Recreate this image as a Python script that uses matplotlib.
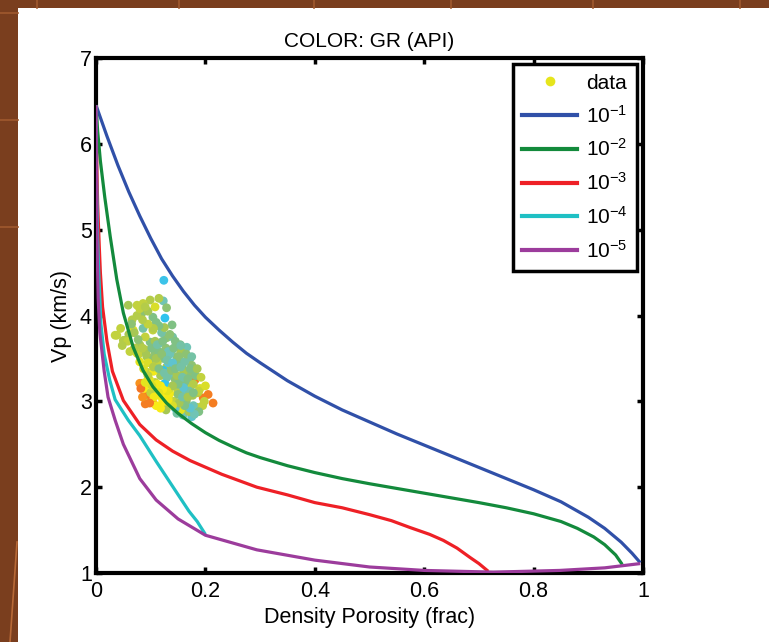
import numpy as np
import matplotlib
matplotlib.use("Agg")
from matplotlib import pyplot as plt
from matplotlib.colors import LinearSegmentedColormap, Normalize
from matplotlib.lines import Line2D
from matplotlib.patches import Rectangle

matplotlib.rcParams.update({'font.family': 'Liberation Sans', 'font.size': 15,
                            'mathtext.fontset': 'custom', 'mathtext.rm': 'Liberation Sans',
                            'mathtext.it': 'Liberation Sans', 'mathtext.bf': 'Liberation Sans'})

## model curves (porosity, Vp)
blue_phi = [0, 0.02, 0.04, 0.06, 0.08, 0.10, 0.12, 0.14, 0.16, 0.18, 0.20, 0.225, 0.25, 0.275,
            0.30, 0.35, 0.40, 0.45, 0.50, 0.55, 0.60, 0.65, 0.70, 0.75, 0.80, 0.85, 0.90, 0.93,
            0.96, 0.98, 0.995]
blue_vp = [6.45, 6.09, 5.75, 5.44, 5.16, 4.90, 4.66, 4.46, 4.28, 4.12, 3.98, 3.83, 3.69, 3.56,
           3.45, 3.24, 3.06, 2.90, 2.76, 2.62, 2.49, 2.36, 2.23, 2.10, 1.97, 1.83, 1.65, 1.52,
           1.36, 1.23, 1.12]

green_phi = [0, 0.003, 0.008, 0.016, 0.026, 0.038, 0.050, 0.068, 0.086, 0.104, 0.129, 0.15,
             0.175, 0.20, 0.225, 0.25, 0.275, 0.30, 0.35, 0.40, 0.45, 0.50, 0.55, 0.60, 0.65,
             0.70, 0.75, 0.80, 0.85, 0.88, 0.91, 0.93, 0.95, 0.962]
green_vp = [6.45, 6.15, 5.80, 5.38, 4.92, 4.42, 4.03, 3.63, 3.36, 3.17, 2.98, 2.86,
            2.74, 2.635, 2.545, 2.47, 2.40, 2.345, 2.25, 2.17, 2.10, 2.04, 1.985, 1.93, 1.875,
            1.82, 1.76, 1.69, 1.60, 1.52, 1.42, 1.33, 1.21, 1.10]

red_phi = [0, 0.001, 0.003, 0.006, 0.008, 0.012, 0.020, 0.030, 0.050, 0.080, 0.110, 0.140,
           0.172, 0.230, 0.294, 0.350, 0.400, 0.450, 0.500, 0.540, 0.574, 0.610, 0.635, 0.660,
           0.684, 0.700, 0.717]
red_vp = [6.45, 5.90, 5.30, 4.80, 4.50, 4.10, 3.70, 3.35, 3.01, 2.73, 2.55, 2.42,
          2.31, 2.15, 2.00, 1.91, 1.82, 1.76, 1.68, 1.61, 1.53, 1.45, 1.38, 1.29,
          1.18, 1.11, 1.02]

cyan_phi = [0, 0.001, 0.003, 0.005, 0.009, 0.015, 0.025, 0.035, 0.059, 0.080, 0.110, 0.141,
            0.170, 0.185, 0.200]
cyan_vp = [6.45, 5.60, 4.90, 4.50, 3.90, 3.55, 3.25, 3.02, 2.78, 2.60, 2.30, 2.00,
           1.72, 1.60, 1.45]

purple_phi = [0, 0.001, 0.002, 0.004, 0.007, 0.015, 0.022, 0.035, 0.050, 0.080, 0.110, 0.150,
              0.200, 0.294, 0.400, 0.500, 0.600, 0.726, 0.848, 0.930, 0.995]
purple_vp = [6.45, 5.50, 4.80, 4.20, 3.80, 3.35, 3.05, 2.78, 2.50, 2.10, 1.85, 1.63,
             1.44, 1.27, 1.15, 1.07, 1.03, 1.01, 1.03, 1.06, 1.11]

curves = [(blue_phi, blue_vp, '#3050a8', r'10$^{-1}$'),
          (green_phi, green_vp, '#138a3c', r'10$^{-2}$'),
          (red_phi, red_vp, '#ee2026', r'10$^{-3}$'),
          (cyan_phi, cyan_vp, '#1fc0c4', r'10$^{-4}$'),
          (purple_phi, purple_vp, '#9c3c9c', r'10$^{-5}$')]

## well log points: density porosity, Vp, GR
por = [0.124, 0.123, 0.126, 0.129, 0.139, 0.099, 0.086, 0.075, 0.059, 0.084, 0.104, 0.066, 0.038,
       0.053, 0.068, 0.086, 0.104, 0.129, 0.117, 0.099, 0.080, 0.154, 0.166, 0.139, 0.108, 0.075,
       0.093, 0.123, 0.148, 0.172, 0.080, 0.104, 0.129, 0.157, 0.123, 0.093, 0.172, 0.139, 0.181,
       0.084, 0.108, 0.126, 0.154, 0.172, 0.190, 0.093, 0.113, 0.135, 0.159, 0.177, 0.196, 0.214,
       0.104, 0.093, 0.129, 0.154, 0.168, 0.185, 0.148, 0.159, 0.175,
       0.090, 0.100, 0.112, 0.118, 0.130, 0.145, 0.150, 0.162, 0.135, 0.120, 0.110, 0.142, 0.165,
       0.178, 0.186, 0.195, 0.155, 0.170, 0.098, 0.088, 0.100, 0.078, 0.070, 0.060, 0.045, 0.065,
       0.075, 0.095, 0.110, 0.120, 0.135, 0.150, 0.160, 0.175, 0.182, 0.128, 0.108, 0.090, 0.140,
       0.155, 0.115, 0.125, 0.132, 0.160, 0.145, 0.118, 0.128, 0.105, 0.050, 0.035, 0.090, 0.080,
       0.095, 0.105, 0.115, 0.125, 0.138, 0.148, 0.158, 0.168, 0.178, 0.188, 0.170, 0.160, 0.150,
       0.140, 0.130, 0.122, 0.112, 0.102, 0.095, 0.087, 0.092, 0.102, 0.112, 0.122, 0.132, 0.142,
       0.152, 0.162, 0.172, 0.185, 0.192, 0.200, 0.205, 0.198, 0.188, 0.180, 0.172, 0.162, 0.152,
       0.140, 0.132, 0.122, 0.115, 0.106, 0.098, 0.085, 0.082, 0.090, 0.110, 0.120, 0.130, 0.140,
       0.145, 0.155, 0.165, 0.175, 0.145, 0.135, 0.125, 0.115, 0.105, 0.095, 0.085, 0.080, 0.090,
       0.108, 0.115, 0.070, 0.058, 0.048, 0.062, 0.085, 0.077, 0.155, 0.150, 0.158, 0.168, 0.178,
       0.128, 0.118]
vp = [4.41, 4.17, 3.97, 4.09, 3.89, 4.18, 4.14, 4.12, 4.12, 4.03, 3.98, 3.95, 3.77,
      3.71, 3.83, 3.85, 3.83, 3.74, 3.68, 3.69, 3.66, 3.66, 3.63, 3.60, 3.57, 3.56,
      3.52, 3.50, 3.52, 3.50, 3.46, 3.42, 3.40, 3.40, 3.36, 3.34, 3.33, 3.31, 3.25,
      3.21, 3.22, 3.21, 3.19, 3.17, 3.15, 3.07, 3.11, 3.09, 3.05, 3.07, 3.04, 2.98,
      2.98, 2.98, 2.98, 2.96, 2.92, 2.93, 2.86, 2.84, 2.82,
      3.60, 3.50, 3.45, 3.30, 3.28, 3.25, 3.12, 3.22, 3.15, 3.05, 2.95, 3.00, 3.00,
      2.95, 3.10, 2.95, 2.90, 2.88, 3.25, 3.15, 3.10, 3.55, 3.62, 3.78, 3.85, 3.90,
      4.00, 4.05, 3.92, 3.80, 3.55, 3.45, 3.35, 3.42, 3.30, 3.62, 3.70, 3.75, 3.75,
      3.58, 3.58, 3.20, 3.45, 3.10, 2.92, 3.18, 3.08, 3.35, 3.71, 3.77, 2.97, 3.21,
      3.45, 3.40, 3.38, 3.33, 3.36, 3.30, 3.28, 3.26, 3.20, 3.12, 3.12, 3.16, 3.20,
      3.18, 3.12, 3.14, 3.20, 3.18, 3.30, 3.38, 3.55, 3.62, 3.66, 3.70, 3.58, 3.62,
      3.52, 3.46, 3.38, 3.38, 3.28, 3.18, 3.08, 3.00, 2.88, 2.85, 2.92, 2.95, 2.98,
      2.95, 3.02, 3.00, 3.10, 3.05, 2.98, 3.05, 3.15, 3.22, 3.50, 3.55, 3.48, 3.45,
      3.38, 3.40, 3.55, 3.52, 3.70, 3.78, 3.86, 3.88, 3.85, 3.90, 3.95, 4.08, 4.10,
      4.10, 4.20, 3.80, 3.70, 3.65, 3.58, 3.62, 3.72, 3.65, 3.08, 3.05, 3.05, 3.10,
      2.90, 2.92]
gr = [75, 90, 70, 105, 100, 115, 118, 120, 110, 105, 100, 115, 120,
      110, 125, 95, 120, 105, 90, 100, 110, 100, 90, 95, 105, 125,
      110, 100, 105, 95, 130, 115, 110, 100, 70, 120, 105, 90, 165,
      160, 120, 75, 100, 120, 125, 165, 100, 135, 90, 110, 165, 165,
      170, 120, 130, 110, 85, 115, 95, 90, 85,
      115, 105, 120, 110, 95, 105, 115, 100, 125, 135, 140, 120, 105,
      90, 115, 120, 130, 110, 130, 140, 120, 120, 115, 110, 120, 105,
      115, 110, 100, 95, 90, 100, 110, 105, 100, 105, 110, 120, 95,
      110, 100, 70, 80, 90, 85, 140, 138, 135, 115, 120, 165, 160,
      125, 115, 100, 95, 105, 110, 95, 100, 115, 120, 95, 85, 100,
      110, 130, 140, 135, 125, 120, 125, 110, 100, 95, 100, 90, 100,
      105, 95, 100, 110, 120, 125, 165, 120, 100, 90, 85, 100, 110,
      125, 135, 140, 130, 135, 165, 160, 170, 130, 110, 105, 95, 85,
      100, 95, 105, 95, 100, 105, 110, 100, 115, 120, 115, 120, 115,
      125, 115, 110, 120, 115, 120, 115, 105, 95, 105, 95, 110, 100,
      110, 140]

gr_ticks = list(range(0, 221, 20))

# MATLAB-like jet used in the figure
anchors = [(0, '#2a2f85'), (20, '#2f4a9e'), (40, '#3358a8'), (60, '#3a7fc0'), (70, '#2fc4ef'),
           (80, '#55c2dd'), (90, '#6fc4b9'), (100, '#7cc08a'), (110, '#9fc45a'), (120, '#c7d43a'),
           (130, '#e6e51c'), (140, '#f9ec17'), (150, '#fbc012'), (160, '#f7931e'), (180, '#f05a28'),
           (195, '#ed1c24'), (210, '#c8202a'), (220, '#8b1a1a')]
cmap = LinearSegmentedColormap.from_list('gr', [(v / 220, c) for v, c in anchors], N=64)
norm = Normalize(vmin=0, vmax=220)

fig = plt.figure(figsize=(7.69, 6.42), dpi=100)
fig.patch.set_facecolor('#7a3e1e')
fig.patches.append(Rectangle((18 / 769, 0), 1, 1 - 8 / 642, transform=fig.transFigure,
                             facecolor='white', edgecolor='none', zorder=0))
# slide background decoration
for yy in [13, 120, 227]:
    fig.add_artist(Line2D([0, 18 / 769], [1 - yy / 642] * 2, color='#a0592e', lw=1.2))
for xx in [37, 179, 314, 451, 593, 740]:
    fig.add_artist(Line2D([xx / 769] * 2, [1 - 8 / 642, 1], color='#a0592e', lw=1.2))
fig.add_artist(Line2D([10 / 769, 17 / 769], [0, 100 / 642], color='#b86a38', lw=1.2))

ax = fig.add_axes([96 / 769, 69 / 642, 547 / 769, 515 / 642])
ax.set_zorder(2)

ax.scatter(por, vp, c=gr, cmap=cmap, norm=norm, s=40, edgecolors='none', zorder=2)
for phi, v, col, lab in curves:
    ax.plot(phi, v, color=col, lw=2.3, zorder=3, solid_capstyle='butt', solid_joinstyle='round')

ax.set(xlim=(0, 1), ylim=(1, 7))
ax.set_xticks([0, 0.2, 0.4, 0.6, 0.8, 1])
ax.set_xticklabels(['0', '0.2', '0.4', '0.6', '0.8', '1'])
ax.set_yticks(range(1, 8))
ax.tick_params(direction='in', top=True, right=True, length=4, width=2.5, labelsize=15.5)
ax.tick_params(axis='x', pad=6)
ax.tick_params(axis='y', pad=3)
for s in ax.spines.values():
    s.set_linewidth(3)
ax.set_xlabel('Density Porosity (frac)', fontsize=15.5, labelpad=3)
ax.set_ylabel('Vp (km/s)', fontsize=15.5, labelpad=6)
ax.set_title('COLOR: GR (API)', fontsize=15, pad=8)

handles = [Line2D([], [], ls='none', marker='o', ms=7, color='#e6e51c', mec='none')]
handles += [Line2D([], [], color=col, lw=3) for _, _, col, _ in curves]
labels = ['data'] + [lab for _, _, _, lab in curves]
leg = ax.legend(handles, labels, loc='upper right', fontsize=15, handlelength=2.65,
                handletextpad=0.4, labelspacing=0.57, borderpad=0.45, borderaxespad=0.3,
                fancybox=False, framealpha=1, edgecolor='black')
leg.get_frame().set_linewidth(2.5)

cax = fig.add_axes([676 / 769, 69 / 642, 36 / 769, 515 / 642])
cb = fig.colorbar(matplotlib.cm.ScalarMappable(norm=norm, cmap=cmap), cax=cax, ticks=gr_ticks)
cb.outline.set_linewidth(0.8)
cax.tick_params(direction='in', left=True, right=True, length=4, width=1, labelsize=16, pad=3)

fig.savefig('out.png', dpi=100, facecolor=fig.get_facecolor())
